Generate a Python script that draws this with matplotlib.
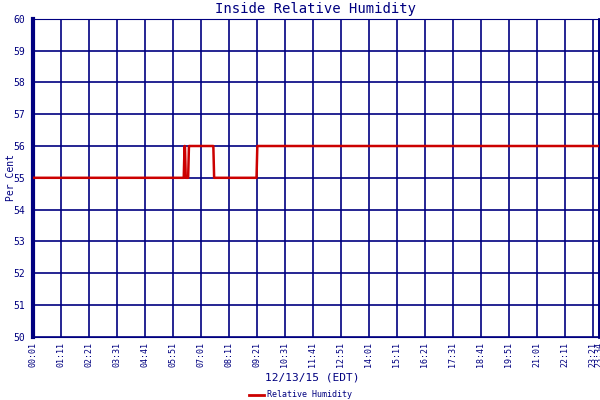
import matplotlib
matplotlib.use("Agg")
import matplotlib.pyplot as plt

# minutes after 00:01
t = [0, 377, 378, 379, 380, 381, 382, 388, 389, 390, 391, 392, 451, 452, 453, 559, 560, 561, 1415]
rh = [55, 55, 55.5, 56, 56, 55.5, 55, 55, 55.5, 56, 56, 56, 56, 55.5, 55, 55, 55.5, 56, 56]
tick_labels = ["00:01","01:11","02:21","03:31","04:41","05:51","07:01","08:11","09:21","10:31",
               "11:41","12:51","14:01","15:11","16:21","17:31","18:41","19:51","21:01","22:11","23:21"]
ticks = [70*i for i in range(len(tick_labels))]
navy = "#000080"

fig = plt.figure(figsize=(6, 4), dpi=100)
ax = fig.add_axes([0.055, 0.158, 0.943, 0.795])
ax.plot(t, rh, color="#cc0000", lw=1.8, zorder=3)
ax.set_xlim(0, 1415)
ax.set_ylim(50, 60)
ax.set_yticks(range(50, 61))
ax.set_xticks(ticks + [1415])
ax.set_xticklabels(tick_labels + ["23:34"], rotation=90, fontsize=6, family="DejaVu Sans Mono", color=navy)
ax.tick_params(axis="y", labelsize=7, labelcolor=navy, length=0, pad=6)
ax.tick_params(axis="x", length=0, pad=4)
for lab in ax.get_yticklabels():
    lab.set_family("DejaVu Sans Mono")
ax.grid(True, color=navy, lw=1.2, zorder=2)
ax.set_axisbelow(False)
for s in ax.spines.values():
    s.set_color(navy)
ax.spines["left"].set_linewidth(3)
ax.spines["right"].set_linewidth(2)
ax.set_title("Inside Relative Humidity", fontsize=10, color=navy, family="DejaVu Sans Mono", pad=4)
fig.text(0.018, 0.555, "Per Cent", rotation=90, ha="center", va="center", fontsize=7, color=navy, family="DejaVu Sans Mono")
fig.text(0.52, 0.05, "12/13/15 (EDT)", ha="center", fontsize=8, color=navy, family="DejaVu Sans Mono")
fig.lines.append(plt.Line2D([0.415, 0.44], [0.013, 0.013], color="#cc0000", lw=2, transform=fig.transFigure))
fig.text(0.445, 0.013, "Relative Humidity", va="center", fontsize=6, color=navy, family="DejaVu Sans Mono")
fig.savefig("out.png")
